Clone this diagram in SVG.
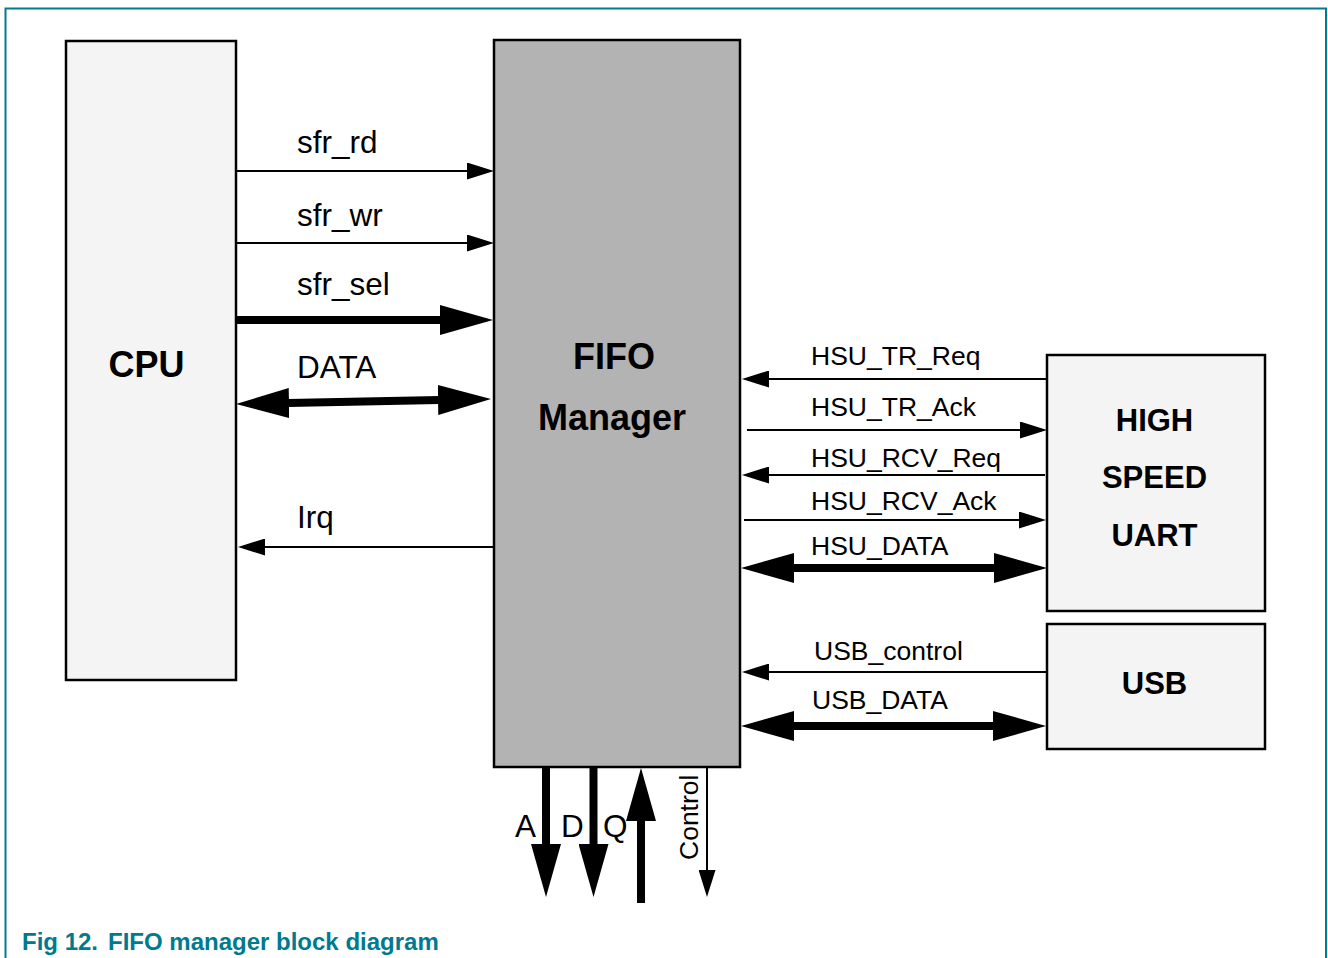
<svg xmlns="http://www.w3.org/2000/svg" width="1328" height="958" viewBox="0 0 1328 958">
<style>
.box{fill:#f4f4f4;stroke:#000;stroke-width:2.5}
.fifo{fill:#b3b3b3;stroke:#000;stroke-width:2.5}
.thin{fill:none;stroke:#000;stroke-width:2;marker-end:url(#th)}
.thick{fill:none;stroke:#000;stroke-width:8;marker-end:url(#tk)}
.both{fill:none;stroke:#000;stroke-width:8;marker-end:url(#tk);marker-start:url(#tk)}
.lbl{font-family:"Liberation Sans",Arial,sans-serif;font-size:31.5px;fill:#000}
.hl{font-family:"Liberation Sans",Arial,sans-serif;font-size:26.5px;fill:#000}
.big{font-family:"Liberation Sans",Arial,sans-serif;font-size:36px;font-weight:bold;fill:#000;text-anchor:middle}
.mid{font-family:"Liberation Sans",Arial,sans-serif;font-size:31px;font-weight:bold;fill:#000;text-anchor:middle}
.cap{font-family:"Liberation Sans",Arial,sans-serif;font-size:24px;font-weight:bold;fill:#007a8e}
</style>
<defs>
<marker id="th" markerUnits="userSpaceOnUse" viewBox="0 0 27 17" refX="1" refY="8.5" markerWidth="27" markerHeight="17" orient="auto-start-reverse"><path d="M0,0 L27,8.5 L0,17 Z" fill="#000"/></marker>
<marker id="tk" markerUnits="userSpaceOnUse" viewBox="0 0 53 30" refX="1" refY="15" markerWidth="53" markerHeight="30" orient="auto-start-reverse"><path d="M0,0 L53,15 L0,30 Z" fill="#000"/></marker>
</defs>
<rect width="1328" height="958" fill="#fff"/>
<path d="M5.5,958 V8.5 H1326 V958" fill="none" stroke="#007a8e" stroke-width="2"/>

<g id="cpu"><rect class="box" x="66" y="41" width="170" height="639"/><text class="big" x="146.5" y="377">CPU</text></g>
<g id="fifo"><rect class="fifo" x="494" y="40" width="246" height="727"/><text class="big" x="614" y="369">FIFO</text><text class="big" x="612" y="430">Manager</text></g>
<g id="uart"><rect class="box" x="1047" y="355" width="218" height="256"/><text class="mid" x="1154.5" y="431">HIGH</text><text class="mid" x="1154.5" y="488">SPEED</text><text class="mid" x="1154.5" y="546">UART</text></g>
<g id="usb"><rect class="box" x="1047" y="624" width="218" height="125"/><text class="mid" x="1154.5" y="694">USB</text></g>

<g id="connectors">
<path class="thin" d="M236,171 H468"/>
<path class="thin" d="M236,243 H468"/>
<path class="thick" d="M236,320 H441"/>
<path class="both" d="M288,403 L439,400"/>
<path class="thin" d="M494,547 H264"/>
<path class="thin" d="M1047,379 H768"/>
<path class="thin" d="M747,430 H1021"/>
<path class="thin" d="M1045,475 H768"/>
<path class="thin" d="M744,520 H1020"/>
<path class="both" d="M793,568 H995"/>
<path class="thin" d="M1047,672 H768"/>
<path class="both" d="M793,726 H994"/>
<path class="thick" d="M546,767 V845"/>
<path class="thick" d="M593.5,767 V845"/>
<path class="thick" d="M641,903 V820"/>
<path class="thin" d="M707,767 V871"/>
</g>

<g id="labels">
<text class="lbl" x="297" y="153">sfr_rd</text>
<text class="lbl" x="297" y="226">sfr_wr</text>
<text class="lbl" x="297" y="295">sfr_sel</text>
<text class="lbl" x="297" y="378">DATA</text>
<text class="lbl" x="297" y="528">Irq</text>
<text class="hl" x="811" y="365">HSU_TR_Req</text>
<text class="hl" x="811" y="416">HSU_TR_Ack</text>
<text class="hl" x="811" y="467">HSU_RCV_Req</text>
<text class="hl" x="811" y="510">HSU_RCV_Ack</text>
<text class="hl" x="811" y="555">HSU_DATA</text>
<text class="hl" x="814" y="660">USB_control</text>
<text class="hl" x="812" y="709">USB_DATA</text>
<text class="lbl" x="515" y="837">A</text>
<text class="lbl" x="561" y="837">D</text>
<text class="lbl" x="603" y="837">Q</text>
<text class="hl" transform="translate(698,860) rotate(-90)" x="0" y="0">Control</text>
</g>
<text class="cap" x="22" y="950">Fig 12.<tspan x="108">FIFO manager block diagram</tspan></text>
</svg>
